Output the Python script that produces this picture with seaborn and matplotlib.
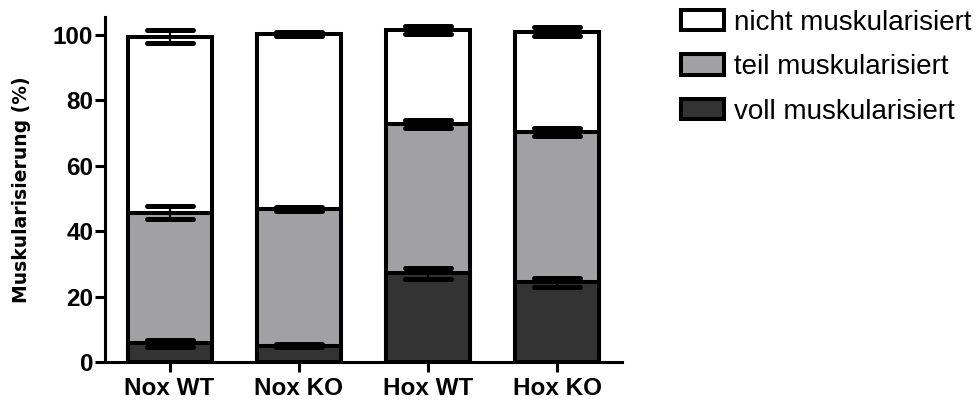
import matplotlib
matplotlib.use("Agg")
import matplotlib.pyplot as plt
import seaborn as sns
import numpy as np
import pandas as pd
from matplotlib.patches import Patch
from matplotlib.markers import MarkerStyle

# ---- data ----
groups = ["Nox WT", "Nox KO", "Hox WT", "Hox KO"]
voll = [5.7, 5.0, 27.1, 24.4]
teil = [40.0, 41.7, 45.6, 46.0]
nicht = [53.8, 53.6, 28.8, 30.6]
voll_err = [1.0, 0.5, 1.7, 1.4]
teil_err = [1.9, 0.6, 1.2, 1.3]
nicht_err = [2.1, 0.5, 1.1, 1.4]
series_labels = ["nicht muskularisiert", "teil muskularisiert", "voll muskularisiert"]
ylabel = "Muskularisierung (%)"
yticks = [0, 20, 40, 60, 80, 100]

sns.set_style("ticks", {"axes.edgecolor": "black", "text.color": "black",
                        "xtick.color": "black", "ytick.color": "black",
                        "axes.labelcolor": "black"})
plt.rcParams["font.family"] = ["Liberation Sans", "DejaVu Sans"]

cum_voll = np.array(voll)
cum_teil = cum_voll + np.array(teil)
cum_total = cum_teil + np.array(nicht)

df = pd.DataFrame({"group": groups, "voll": cum_voll, "teil": cum_teil, "total": cum_total})

fig = plt.figure(figsize=(9.78, 4.0), dpi=100)
ax = fig.add_axes([105/978, 38/400, (622-105)/978, (362-17)/400])

colors = {"total": "white", "teil": "#a1a0a4", "voll": "#333333"}
lw = 2.9
for col in ["total", "teil", "voll"]:
    sns.barplot(data=df, x="group", y=col, color=colors[col], saturation=1,
                edgecolor="black", linewidth=lw, width=0.65, ax=ax, zorder=2)

xs = np.arange(len(groups))
for cum, err in [(cum_voll, voll_err), (cum_teil, teil_err), (cum_total, nicht_err)]:
    cont = ax.errorbar(xs, cum, yerr=err, fmt="none", ecolor="black", elinewidth=1.6,
                       capsize=16.5, capthick=3.6, zorder=5)
    for cl in cont[1]:
        cl.set_marker(MarkerStyle("_", capstyle="round"))

ax.set_xlim(-0.5, 3.5)
ax.set_ylim(0, 105.5)
ax.set_yticks(yticks)
ax.set_xlabel("")
ax.set_ylabel(ylabel, fontsize=13.5, fontweight="bold", family=["DejaVu Sans"], labelpad=16)
sns.despine(ax=ax)
for s in ["left", "bottom"]:
    ax.spines[s].set_linewidth(2.2)
ax.tick_params(axis="both", width=2.2, length=7, direction="out")
ax.tick_params(axis="y", pad=1.5)
ax.tick_params(axis="x", pad=4)
for t in ax.get_xticklabels() + ax.get_yticklabels():
    t.set_fontsize(17.5)
    t.set_fontweight("bold")

handles = [Patch(facecolor=colors[c], edgecolor="black", linewidth=lw) for c in ["total", "teil", "voll"]]
fig.legend(handles, series_labels, loc="upper left", bbox_to_anchor=(681/978, 1 - 10/400),
           frameon=False, fontsize=20, borderpad=0, handlelength=1.55, handleheight=0.75,
           handletextpad=0.36, labelspacing=0.66, borderaxespad=0)

fig.savefig("out.png", dpi=100)
